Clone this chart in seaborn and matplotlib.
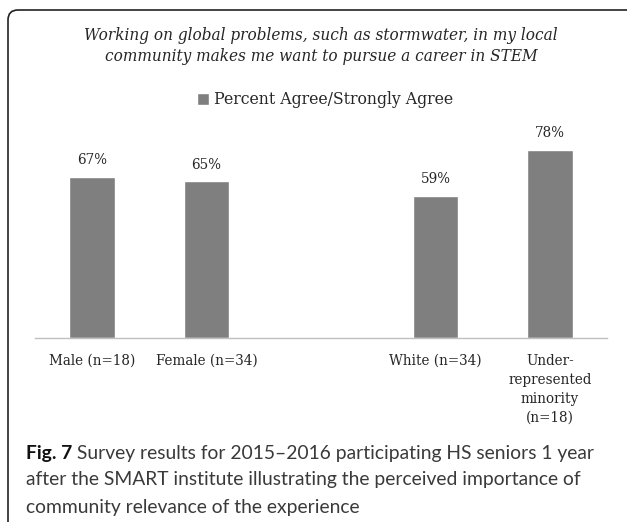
import matplotlib
matplotlib.use("Agg")
import matplotlib.pyplot as plt
from matplotlib.patches import FancyBboxPatch
import pandas as pd
import seaborn as sns

# Survey data
groups = ["Male (n=18)", "Female (n=34)", "White (n=34)",
          "Under-\nrepresented\nminority\n(n=18)"]
agree_pct = [67, 65, 59, 78]
# a blank slot separates the gender and ethnicity groups
slot_order = ["Male (n=18)", "Female (n=34)", " ", "White (n=34)",
              "Under-\nrepresented\nminority\n(n=18)"]

series_name = "Percent Agree/Strongly Agree"
title = ("Working on global problems, such as stormwater, in my local\n"
         "community makes me want to pursue a career in STEM")
caption_bold = "Fig. 7"
caption_lines = [
    " Survey results for 2015\u20132016 participating HS seniors 1 year",
    "after the SMART institute illustrating the perceived importance of",
    "community relevance of the experience",
]

df = pd.DataFrame({"group": groups, "pct": agree_pct})

sns.set_theme(style="white")
SERIF = ["DejaVu Serif", "Liberation Serif"]
SANS = ["Lato", "DejaVu Sans"]
plt.rcParams["font.family"] = SERIF
plt.rcParams["font.stretch"] = "condensed"

W, H = 627, 522
fig = plt.figure(figsize=(W / 100, H / 100), dpi=100)
fig.patch.set_facecolor("white")
TXT = "#262626"

ax = fig.add_axes([35 / W, (H - 338) / H, 572 / W, (338 - 121.3) / H])
sns.barplot(data=df, x="group", y="pct", order=slot_order, color="#7f7f7f",
            width=0.4, saturation=1, ax=ax, label=series_name, errorbar=None)
ax.set_ylim(0, 90)
ax.set_xlim(-0.5, 4.5)
ax.set_xlabel("")
ax.set_ylabel("")
ax.set_yticks([])
for s in ["top", "right", "left"]:
    ax.spines[s].set_visible(False)
ax.spines["bottom"].set_color("#bfbfbf")
ax.spines["bottom"].set_linewidth(1.0)
ax.tick_params(axis="x", length=0, pad=11.5, labelsize=11, colors=TXT)
for lbl in ax.get_xticklabels():
    lbl.set_linespacing(1.45)
    lbl.set_verticalalignment("top")

value_labels = []
for cont in ax.containers:
    value_labels += ax.bar_label(cont, labels=[f"{v:.0f}%" for v in cont.datavalues],
                                 padding=7, fontsize=11, color=TXT)

leg = ax.legend(loc="center", bbox_to_anchor=(325 / W, (H - 100) / H),
                bbox_transform=fig.transFigure, frameon=False, fontsize=12,
                handlelength=0.7, handleheight=0.7, handletextpad=0.3,
                labelcolor=TXT)

title_txt = fig.text(321 / W, (H - 46) / H, title, ha="center", va="center",
                     fontsize=12, style="italic", color=TXT, linespacing=1.35)

# Rounded frame around the chart panel
frame = FancyBboxPatch((0.08, -1.0), 8.0, (H - 10) / 100 + 1.0,
                       boxstyle="round,pad=0,rounding_size=0.1",
                       transform=fig.dpi_scale_trans, facecolor="none",
                       edgecolor="#222222", linewidth=1.2, clip_on=False)
fig.patches.append(frame)

# Caption
cap_b = fig.text(26 / W, (H - 453) / H, caption_bold, ha="left", va="center",
                 fontsize=12, fontweight="bold", family=SANS, color="#111111")
cap_1 = ax.annotate(caption_lines[0], xy=(1, 0.5), xycoords=cap_b, ha="left",
                    va="center", fontsize=12, family=SANS, color="#3a3a3a")
cap_2 = fig.text(26 / W, (H - 480) / H, caption_lines[1], ha="left", va="center",
                 fontsize=12, family=SANS, color="#3a3a3a")
cap_3 = fig.text(26 / W, (H - 507) / H, caption_lines[2], ha="left", va="center",
                 fontsize=12, family=SANS, color="#3a3a3a")

# Size the text so each line spans its intended width in pixels
fig.canvas.draw()
r = fig.canvas.get_renderer()


def width(t):
    return t.get_window_extent(r).width


k = 86 / width(ax.get_xticklabels()[0])
ax.tick_params(axis="x", labelsize=11 * k)
for t in value_labels:
    t.set_fontsize(11 * k)
leg_t = leg.get_texts()[0]
leg_t.set_fontsize(12 * 240 / width(leg_t))
title_txt.set_fontsize(12 * 472 / width(title_txt))
kc = 567 / (width(cap_b) + width(cap_1))
for t in (cap_b, cap_1, cap_2, cap_3):
    t.set_fontsize(12 * kc)

fig.savefig("out.png", dpi=100)
